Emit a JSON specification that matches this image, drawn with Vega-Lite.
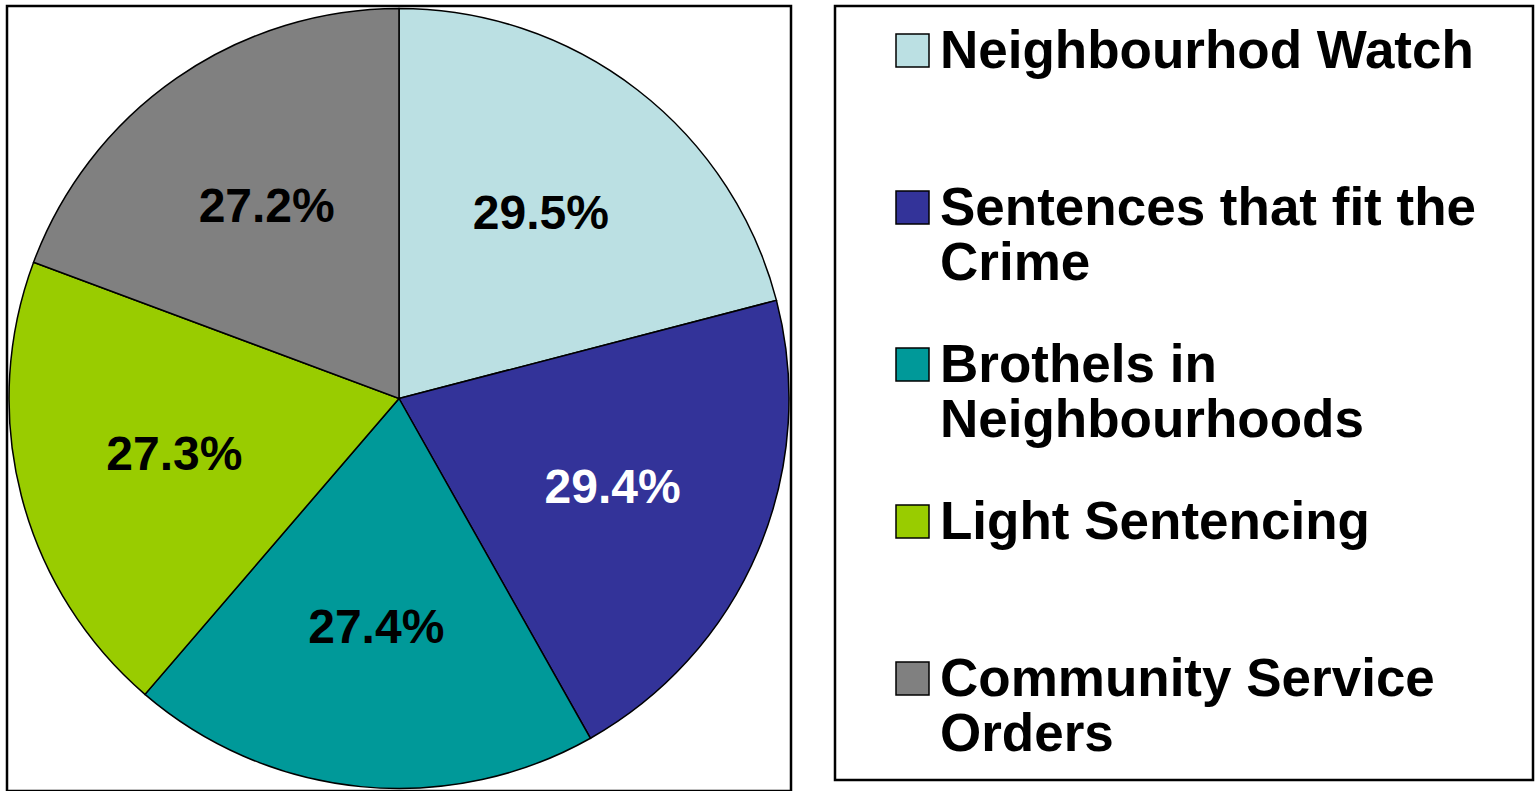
{
  "$schema": "https://vega.github.io/schema/vega-lite/v6.json",
  "width": 784,
  "height": 785,
  "padding": {"left": 6, "top": 4, "right": 0, "bottom": 0},
  "background": "white",
  "view": {"stroke": "black", "strokeWidth": 2.5},
  "config": {
    "view": {"stroke": "black", "strokeWidth": 2.5},
    "font": "Liberation Sans"
  },
  "data": {
    "values": [
      {"category": "Neighbourhod Watch", "share": 0.295, "rank": 1},
      {"category": "Sentences that fit the Crime", "share": 0.294, "rank": 2},
      {"category": "Brothels in Neighbourhoods", "share": 0.274, "rank": 3},
      {"category": "Light Sentencing", "share": 0.273, "rank": 4},
      {"category": "Community Service Orders", "share": 0.272, "rank": 5}
    ]
  },
  "encoding": {
    "theta": {"field": "share", "type": "quantitative", "stack": true},
    "order": {"field": "rank", "type": "quantitative"}
  },
  "layer": [
    {
      "mark": {"type": "arc", "outerRadius": 390, "stroke": "black", "strokeWidth": 1.5},
      "encoding": {
        "color": {
          "field": "category",
          "type": "nominal",
          "scale": {
            "domain": ["Neighbourhod Watch", "Sentences that fit the Crime", "Brothels in Neighbourhoods", "Light Sentencing", "Community Service Orders"],
            "range": ["#BBE0E3", "#333399", "#009999", "#99CC00", "#808080"]
          },
          "legend": {
            "title": null,
            "orient": "right",
            "offset": 44,
            "padding": 18,
            "symbolOffset": 33,
            "symbolType": "square",
            "symbolSize": 1089,
            "symbolStrokeColor": "black",
            "symbolStrokeWidth": 1.5,
            "symbolOpacity": 1,
            "labelFont": "Liberation Sans",
            "labelFontWeight": "bold",
            "labelFontSize": 53,
            "labelColor": "black",
            "labelLineHeight": 62,
            "labelLimit": 1000,
            "labelOffset": 1,
            "labelBaseline": "top",
            "rowPadding": 47,
            "strokeColor": "black",
            "labelExpr": "datum.label == 'Sentences that fit the Crime' ? ['Sentences that fit the\u2800', 'Crime'] : datum.label == 'Brothels in Neighbourhoods' ? ['Brothels in', 'Neighbourhoods'] : datum.label == 'Community Service Orders' ? ['Community Service', 'Orders'] : [datum.label, '']",
            "encode": {
              "legend": {"update": {"strokeWidth": {"value": 2.5}}},
              "labels": {"update": {"dy": {"value": -25}}}
            }
          }
        }
      }
    },
    {
      "mark": {"type": "text", "radius": 232, "font": "Liberation Sans", "fontWeight": "bold", "fontSize": 48},
      "encoding": {
        "text": {"field": "share", "type": "quantitative", "format": ".1%"},
        "color": {
          "condition": {"test": "datum.category === 'Sentences that fit the Crime'", "value": "white"},
          "value": "black"
        }
      }
    }
  ]
}
